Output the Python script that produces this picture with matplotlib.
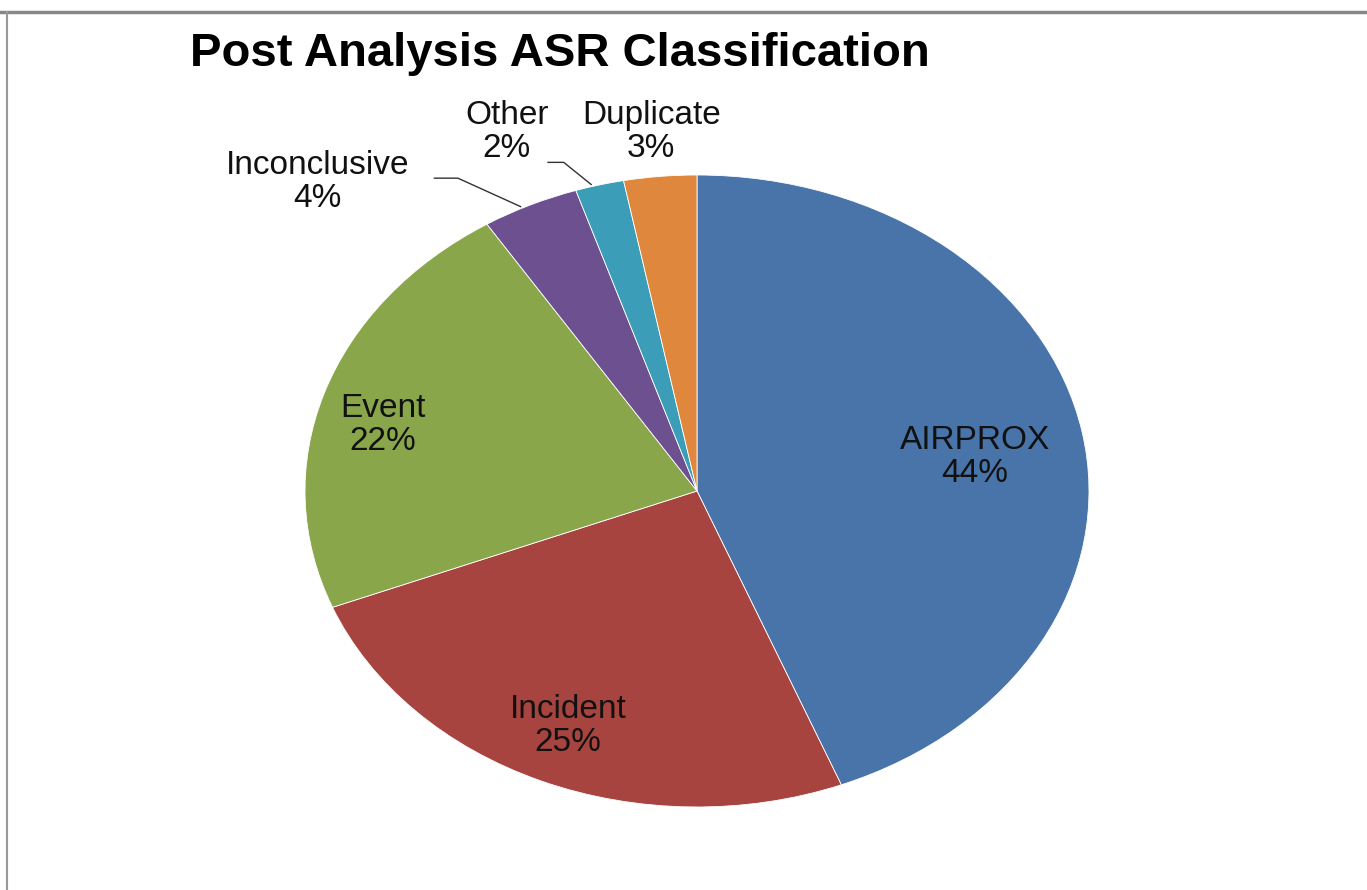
import matplotlib.pyplot as plt

categories = ["AIRPROX", "Incident", "Event", "Inconclusive", "Other", "Duplicate"]
shares = [44, 25, 22, 4, 2, 3]
colors = ["#4874AA", "#A8443F", "#8AA64B", "#6D508F", "#3B9DB8", "#E0873E"]

plt.rcParams["font.family"] = ["Liberation Sans", "DejaVu Sans"]

fig = plt.figure(figsize=(13.67, 8.9), dpi=100)

# pie box: centre (697, 491) px, radii 392 x 316 px
W, H = 1367, 890
cx, cy, rx, ry = 697, 491, 392, 316
ax = fig.add_axes([(cx - rx) / W, (H - cy - ry) / H, 2 * rx / W, 2 * ry / H])

wedges, _ = ax.pie(shares, colors=colors, startangle=90, counterclock=False,
                   wedgeprops=dict(edgecolor="white", linewidth=0.6))
ax.set_aspect("auto")
ax.set_xlim(-1, 1)
ax.set_ylim(-1, 1)
ax.axis("off")

# label centres in pie units, and leader lines for the small slices
label_xy = {"AIRPROX": (0.709, 0.108), "Incident": (-0.329, -0.744),
            "Event": (-0.801, 0.209), "Inconclusive": (-0.967, 0.978),
            "Other": (-0.485, 1.136), "Duplicate": (-0.117, 1.136)}
leaders = {"Inconclusive": [(-0.67, 0.99), (-0.61, 0.99), (-0.45, 0.90)],
           "Other": [(-0.38, 1.04), (-0.34, 1.04), (-0.27, 0.97)]}

for name, val in zip(categories, shares):
    x, y = label_xy[name]
    ax.text(x, y, f"{name}\n{val}%", ha="center", va="center", fontsize=24,
            linespacing=1.1, color="#111111", clip_on=False)
    if name in leaders:
        xs, ys = zip(*leaders[name])
        ax.plot(xs, ys, color="#333333", lw=1, clip_on=False)

fig.text(190 / W, 1 - 54 / H, "Post Analysis ASR Classification",
         fontsize=34, fontweight="bold", ha="left", va="center")

# frame lines at top and left
fig.add_artist(plt.Line2D([0, 1], [1 - 12 / H, 1 - 12 / H], color="#888888", lw=2.5))
fig.add_artist(plt.Line2D([7 / W, 7 / W], [0, 1 - 12 / H], color="#999999", lw=1.5))

fig.savefig("out.png", dpi=100)
